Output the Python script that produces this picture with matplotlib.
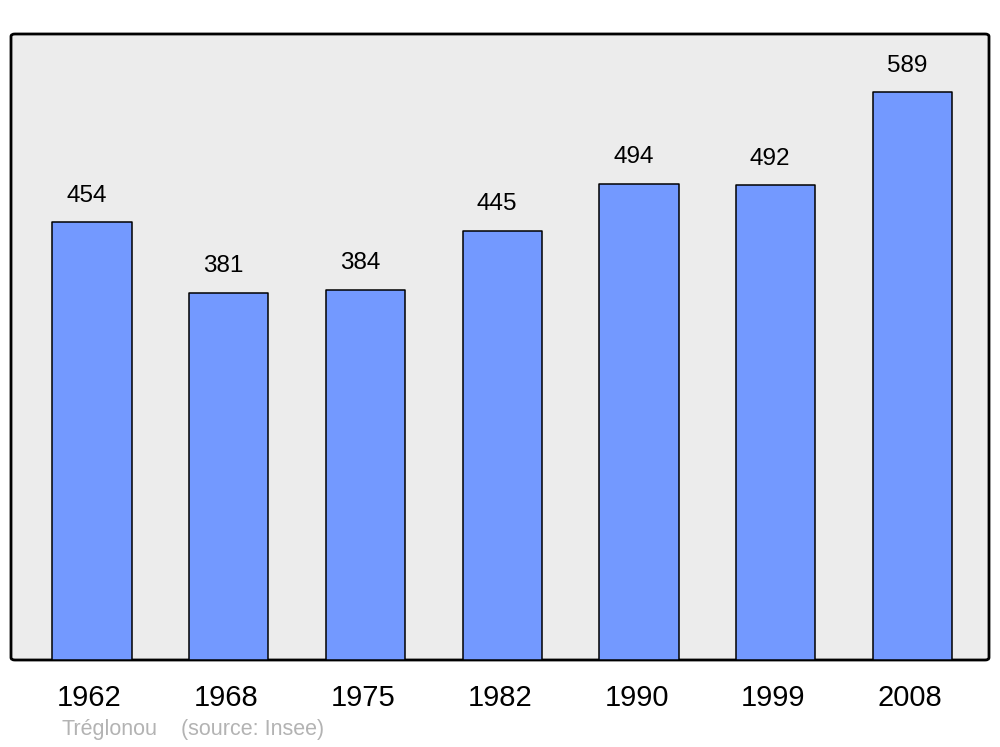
import matplotlib
matplotlib.use('Agg')
import matplotlib.pyplot as plt
import matplotlib.transforms as mtransforms
from matplotlib.patches import FancyBboxPatch

plt.rcParams['font.family'] = ['Liberation Sans', 'DejaVu Sans']

years = ['1962', '1968', '1975', '1982', '1990', '1999', '2008']
population = [454, 381, 384, 445, 494, 492, 589]

fig = plt.figure(figsize=(10, 7.47), dpi=100)
ax = fig.add_axes([0.011, 1 - 660 / 747, 0.978, 626 / 747])
ax.set_facecolor('none')
for s in ax.spines.values():
    s.set_visible(False)

# rounded frame behind the bars
frame = FancyBboxPatch((0, 0), 1, 1, transform=ax.transAxes,
                       boxstyle='round,pad=0,rounding_size=0.004',
                       facecolor='#ececec', edgecolor='black', linewidth=2,
                       zorder=0, clip_on=False)
ax.add_patch(frame)

x = list(range(len(years)))
ax.bar(x, population, width=0.58, color='#7399ff', edgecolor='black',
       linewidth=1.1, joinstyle='round', zorder=2)

for xi, v in zip(x, population):
    ax.annotate(str(v), (xi, v), xytext=(-4, 11), textcoords='offset points',
                ha='center', va='bottom', fontsize=17.5)

ax.set_xlim(-0.592, 6.559)
ax.set_ylim(0, 649)
ax.set_xticks(x)
ax.set_xticklabels(years, fontsize=21)
ax.tick_params(axis='x', length=0, pad=17)
ax.set_yticks([])

# labels sit a little left of the bar centres
shift = mtransforms.ScaledTranslation(-2.5 / 100, 0, fig.dpi_scale_trans)
for lbl in ax.get_xticklabels():
    lbl.set_transform(lbl.get_transform() + shift)

fig.text(0.061, 1 - 730 / 747, 'Tréglonou', color='#b3b3b3', fontsize=15.5,
         va='center', ha='left')
fig.text(0.181, 1 - 730 / 747, '(source: Insee)', color='#b3b3b3', fontsize=15.5,
         va='center', ha='left')

fig.savefig('out.png', dpi=100)
